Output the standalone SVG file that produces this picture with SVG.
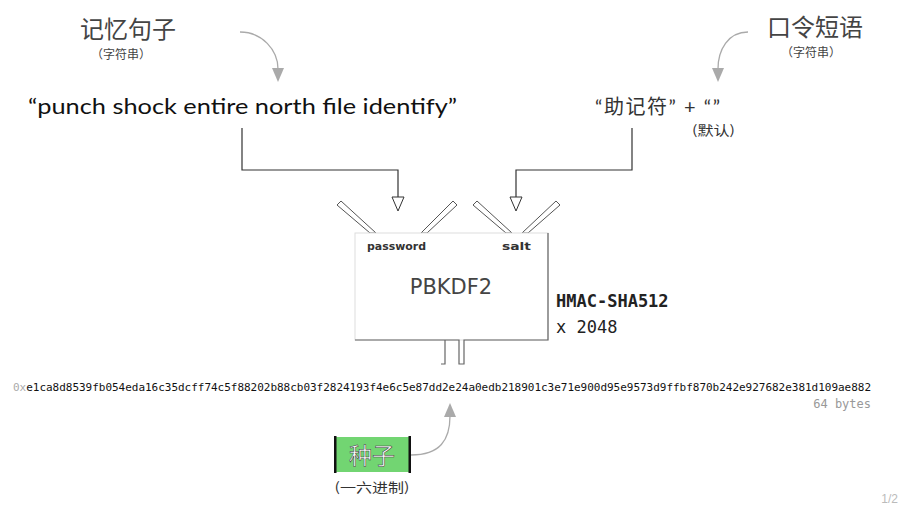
<svg xmlns="http://www.w3.org/2000/svg" width="900" height="509" viewBox="0 0 900 509">
<style>
.cjk{font-family:"Noto Sans CJK SC","Noto Sans",sans-serif}
.title{font-size:24px;fill:#444}
.sub{font-size:12px;fill:#444}
.mono{font-family:"DejaVu Sans Mono","Liberation Mono",monospace}
.curve{fill:none;stroke:#aaa;stroke-width:1.3}
.head{fill:#aaa}
.hollow{fill:#fff;stroke:#333;stroke-width:1}
.wire{fill:none;stroke:#333;stroke-width:1.2}
.pipe{fill:#fff;stroke:#555;stroke-width:1}
</style>
<rect width="900" height="509" fill="#fff"/>

<g id="connectors">
<path class="curve" d="M240,32 C262,32 278,50 278,69"/>
<path class="head" d="M272,68 L284,68 L278,82 Z"/>
<path class="curve" d="M748,32 C728,32 718,50 718,69"/>
<path class="head" d="M712,68 L724,68 L718,82 Z"/>
<path class="wire" d="M242,128 V170 H398 V198"/>
<path class="wire" d="M632,128 V170 H516 V198"/>
<path class="hollow" d="M392,197 L404,197 L398,211 Z"/>
<path class="hollow" d="M510,197 L522,197 L516,211 Z"/>
<path class="curve" d="M411,455 C440,455 450,440 450,416"/>
<path class="head" d="M444,417 L456,417 L450,403 Z"/>
</g>

<g id="mnemonic-label">
<text class="cjk title" x="128" y="38" text-anchor="middle">记忆句子</text>
<text class="cjk sub" x="121" y="59" text-anchor="middle">（字符串）</text>
</g>

<g id="mnemonic">
<text x="28" y="114" font-family="Lato,'Open Sans',sans-serif" font-size="21" fill="#111" textLength="429" lengthAdjust="spacingAndGlyphs">“punch shock entire north file identify”</text>
</g>

<g id="passphrase-label">
<text class="cjk title" x="815" y="36" text-anchor="middle">口令短语</text>
<text class="cjk sub" x="811" y="57" text-anchor="middle">（字符串）</text>
</g>

<g id="passphrase">
<text x="595" y="114" font-family="Lato,'Noto Sans CJK SC',sans-serif" font-size="20" fill="#333" textLength="125" lengthAdjust="spacing">“助记符” + “”</text>
<text class="cjk" x="692" y="135" font-size="13" fill="#333" textLength="43" lengthAdjust="spacingAndGlyphs">(默认)</text>
</g>

<g id="pbkdf2">
<polygon class="pipe" points="337,205 341,201 376,233 370,233"/>
<polygon class="pipe" points="453,201 457,205 427,233 421,233"/>
<polygon class="pipe" points="473,205 477,201 512,233 506,233"/>
<polygon class="pipe" points="556,201 560,205 528,233 522,233"/>
<rect x="355" y="233" width="193" height="107" fill="#fff" stroke="#ddd" stroke-width="1"/>
<path d="M548,233 V340 H464 V364 H459 V340 H445 V364 H441 M445,340 H355" fill="none" stroke="#666" stroke-width="1.2"/>
<text x="367" y="250" font-family="'DejaVu Sans',sans-serif" font-size="11" font-weight="bold" fill="#333" textLength="59" lengthAdjust="spacingAndGlyphs">password</text>
<text x="502" y="250" font-family="'DejaVu Sans',sans-serif" font-size="11" font-weight="bold" fill="#333" textLength="29" lengthAdjust="spacingAndGlyphs">salt</text>
<text x="451" y="294" text-anchor="middle" font-family="'DejaVu Sans',sans-serif" font-size="21" fill="#444">PBKDF2</text>
<text class="mono" x="556" y="307" font-size="17" font-weight="bold" fill="#222">HMAC-SHA512</text>
<text class="mono" x="556" y="333" font-size="17" fill="#222">x 2048</text>
</g>

<g id="seed-hex">
<text class="mono" x="13" y="391" font-size="11" fill="#111" textLength="858" lengthAdjust="spacing"><tspan fill="#aaa">0x</tspan>e1ca8d8539fb054eda16c35dcff74c5f88202b88cb03f2824193f4e6c5e87dd2e24a0edb218901c3e71e900d95e9573d9ffbf870b242e927682e381d109ae882</text>
<text class="mono" x="871" y="408" font-size="12" fill="#999" text-anchor="end">64 bytes</text>
</g>

<g id="seed">
<rect x="334" y="437" width="77" height="35" fill="#72d572"/>
<rect x="334" y="436" width="2.5" height="37" fill="#111"/>
<rect x="408.5" y="436" width="2.5" height="37" fill="#111"/>
<text class="cjk" x="372" y="464" text-anchor="middle" font-size="23" fill="#fff" stroke="#333" stroke-width="0.5">种子</text>
<text class="cjk" x="372" y="492" text-anchor="middle" font-size="13" fill="#333" textLength="75" lengthAdjust="spacingAndGlyphs">(一六进制)</text>
</g>

<text x="898" y="503" text-anchor="end" font-family="'Liberation Sans',sans-serif" font-size="12" fill="#bbb">1/2</text>
</svg>
